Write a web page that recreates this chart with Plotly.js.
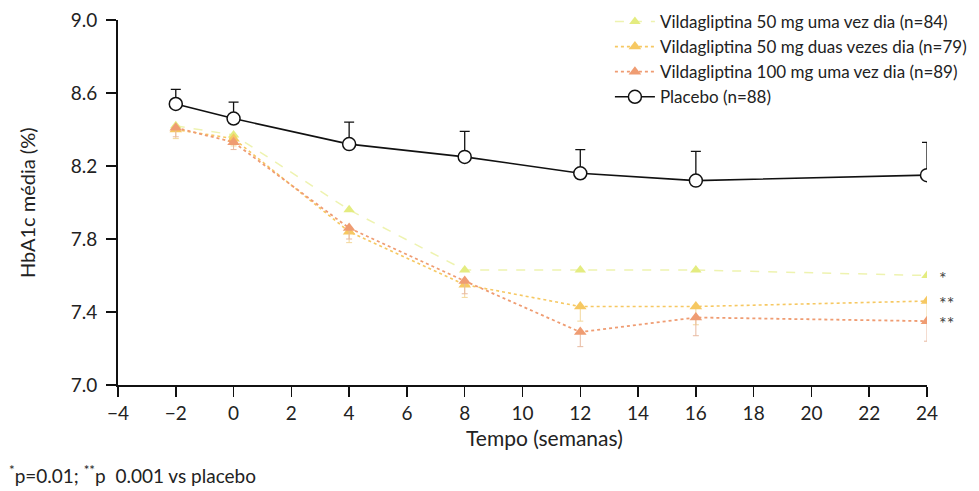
<!DOCTYPE html>
<html>
<head>
<meta charset="utf-8">
<script src="https://cdn.plot.ly/plotly-3.0.1.min.js"></script>
<style>html,body{margin:0;padding:0;background:#fff;}#chart{width:979px;height:491px;}</style>
</head>
<body>
<div id="chart"></div>
<script>
const weeks = [-2, 0, 4, 8, 12, 16, 24];
const names = [
  "Vildagliptina 50 mg uma vez dia (n=84)",
  "Vildagliptina 50 mg duas vezes dia (n=79)",
  "Vildagliptina 100 mg uma vez dia (n=89)",
  "Placebo (n=88)"
];
const vilda50once = [8.42, 8.37, 7.96, 7.63, 7.63, 7.63, 7.60];
const vilda50twice = [8.40, 8.35, 7.84, 7.55, 7.43, 7.43, 7.46];
const vilda100 = [8.41, 8.33, 7.86, 7.57, 7.29, 7.37, 7.35];
const placebo = [8.54, 8.46, 8.32, 8.25, 8.16, 8.12, 8.15];
const placeboErrUp = [0.08, 0.09, 0.12, 0.14, 0.13, 0.16, 0.18];
const vildaErrDown = [0.05, 0.04, 0.06, 0.07, 0.08, 0.10, 0.11];
const zeros = [0, 0, 0, 0, 0, 0, 0];
const sigLabels = ["*", "**", "**"];
const sigValues = [7.60, 7.46, 7.35];
const xTitle = "Tempo (semanas)";
const yTitle = "HbA1c média (%)";
const footnote = "<sup>*</sup>p=0.01; <sup>**</sup>p  0.001 vs placebo";

const c1 = "#e4ec80", c2 = "#f6c862", c3 = "#ef9c72";
const traces = [
  {x: weeks, y: vilda50once, name: names[0], mode: "lines+markers",
   line: {color: "#eef3b0", width: 1.5, dash: "dash"},
   marker: {symbol: "triangle-up", size: 10, color: c1}},
  {x: weeks, y: vilda50twice, name: names[1], mode: "lines+markers",
   line: {color: c2, width: 1.6, dash: "dot"},
   marker: {symbol: "triangle-up", size: 11, color: c2},
   error_y: {type: "data", symmetric: false, array: zeros, arrayminus: vildaErrDown, color: "#f3d79a", thickness: 1, width: 3}},
  {x: weeks, y: vilda100, name: names[2], mode: "lines+markers",
   line: {color: c3, width: 1.8, dash: "dot"},
   marker: {symbol: "triangle-up", size: 11, color: c3},
   error_y: {type: "data", symmetric: false, array: zeros, arrayminus: vildaErrDown, color: "#e8b9a0", thickness: 1, width: 3}},
  {x: weeks, y: placebo, name: names[3], mode: "lines+markers",
   line: {color: "#111", width: 1.6},
   marker: {symbol: "circle", size: 13, color: "#fff", line: {color: "#111", width: 1.5}},
   error_y: {type: "data", symmetric: false, array: placeboErrUp, arrayminus: zeros, color: "#111", thickness: 1.3, width: 5}}
];

const fam = "Lato, 'Open Sans', sans-serif";
const annotations = sigLabels.map((t, i) => ({
  x: 24, y: sigValues[i], xref: "x", yref: "y", text: t, showarrow: false,
  xanchor: "left", xshift: 10, yshift: -2, font: {size: 18, color: "#444", family: fam}
}));
annotations.push({
  xref: "paper", yref: "paper", xanchor: "center", yanchor: "middle",
  x: 0.527, y: -0.143, text: xTitle, showarrow: false,
  font: {size: 21, color: "#222", family: fam}
});
annotations.push({
  xref: "paper", yref: "paper", xanchor: "center", yanchor: "middle", textangle: -90,
  x: -0.113, y: 0.5, text: yTitle, showarrow: false,
  font: {size: 20, color: "#222", family: fam}
});
annotations.push({
  xref: "paper", yref: "paper", xanchor: "left", yanchor: "middle",
  x: -0.137, y: -0.244, text: footnote, showarrow: false,
  font: {size: 19, color: "#222", family: fam}
});

const layout = {
  width: 979, height: 491,
  margin: {l: 118, r: 52, t: 20, b: 106, autoexpand: false},
  paper_bgcolor: "#fff", plot_bgcolor: "#fff",
  font: {family: fam, color: "#222", size: 17},
  showlegend: true,
  legend: {x: 0.623, y: 0.992, xref: "container", yref: "container", xanchor: "left", yanchor: "top",
           bgcolor: "rgba(0,0,0,0)", font: {size: 17, color: "#222"}, itemwidth: 40},
  xaxis: {
    range: [-4, 24], tickvals: [-4,-2,0,2,4,6,8,10,12,14,16,18,20,22,24],
    showline: true, linecolor: "#111", linewidth: 2, ticks: "outside", ticklen: 10,
    tickcolor: "#111", tickwidth: 1.5, showgrid: false, zeroline: false, automargin: false,
    tickfont: {size: 19, color: "#222"}
  },
  yaxis: {
    range: [7, 9], tickvals: [7.0, 7.4, 7.8, 8.2, 8.6, 9.0], ticktext: ["7.0","7.4","7.8","8.2","8.6","9.0"],
    showline: true, linecolor: "#111", linewidth: 2, ticks: "outside", ticklen: 10,
    tickcolor: "#111", tickwidth: 1.5, showgrid: false, zeroline: false, automargin: false,
    ticklabelstandoff: 5,
    tickfont: {size: 19, color: "#222"}
  },
  annotations: annotations
};
Plotly.newPlot("chart", traces, layout, {displayModeBar: false, staticPlot: true});
</script>
</body>
</html>
